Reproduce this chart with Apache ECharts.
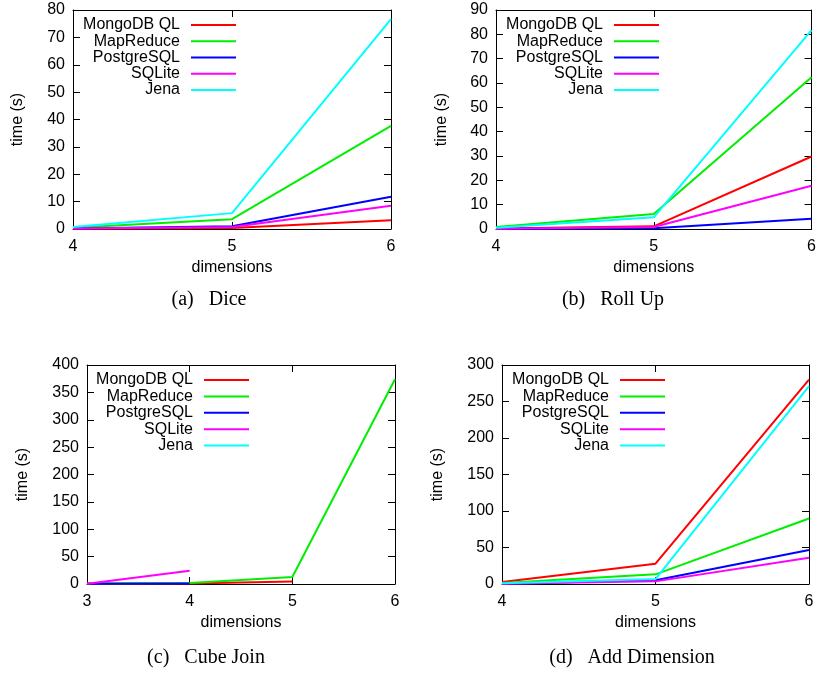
<!DOCTYPE html>
<html>
<head>
<meta charset="utf-8">
<script src="https://cdn.jsdelivr.net/npm/echarts@6/dist/echarts.min.js"></script>
<style>
  html, body { margin: 0; padding: 0; background: #fff; }
  #main { width: 819px; height: 675px; }
</style>
</head>
<body>
<div id="main"></div>
<script>
// series names, colours
var names = ['MongoDB QL', 'MapReduce', 'PostgreSQL', 'SQLite', 'Jena'];
var colors = ['#ff0000', '#00ee00', '#0000ff', '#ff00ff', '#00ffff'];

// x values (dimensions)
var dims456 = [4, 5, 6];
var dims3456 = [3, 4, 5, 6];

// (a) Dice
var diceMongo = [0.1, 0.4, 3.2];
var diceMapReduce = [0.5, 3.6, 37.7];
var dicePostgres = [0.2, 1.0, 11.8];
var diceSQLite = [0.2, 0.7, 8.5];
var diceJena = [0.7, 5.8, 76.7];

// (b) Roll Up
var rollMongo = [0.2, 1.1, 29.8];
var rollMapReduce = [0.8, 6.2, 62.4];
var rollPostgres = [0.1, 0.3, 4.2];
var rollSQLite = [0.1, 0.8, 17.8];
var rollJena = [0.5, 4.8, 81.7];

// (c) Cube Join
var joinMongo = [0.5, 1, 4.5, null];
var joinMapReduce = [1, 2, 12.8, 374];
var joinPostgres = [0.5, 0.8, null, null];
var joinSQLite = [0.5, 24.3, null, null];
var joinJena = [null, null, null, null];

// (d) Add Dimension
var addMongo = [2.7, 27.8, 280];
var addMapReduce = [1.4, 13.2, 89.8];
var addPostgres = [0.5, 5, 46.5];
var addSQLite = [0.5, 3.6, 36];
var addJena = [1, 6.8, 271];

var charts = [
  { caption: '(a)\u2002 Dice', x: dims456, ymax: 80, yint: 10,
    values: [diceMongo, diceMapReduce, dicePostgres, diceSQLite, diceJena],
    grid: { left: 73, top: 10, right: 428, bottom: 446 },
    nameGap: 47, legendRight: 583, legendTop: 25, legendStep: 16.25, capX: 209, capY: 300 },
  { caption: '(b)\u2002 Roll Up', x: dims456, ymax: 90, yint: 10,
    values: [rollMongo, rollMapReduce, rollPostgres, rollSQLite, rollJena],
    grid: { left: 496, top: 10, right: 6, bottom: 446 },
    nameGap: 46, legendRight: 160, legendTop: 25, legendStep: 16.25, capX: 613, capY: 300 },
  { caption: '(c)\u2002 Cube Join', x: dims3456, ymax: 400, yint: 50,
    values: [joinMongo, joinMapReduce, joinPostgres, joinSQLite, joinJena],
    grid: { left: 87, top: 365, right: 424, bottom: 91 },
    nameGap: 56, legendRight: 570, legendTop: 380, legendStep: 16.4, capX: 206, capY: 658 },
  { caption: '(d)\u2002 Add Dimension', x: dims456, ymax: 300, yint: 50,
    values: [addMongo, addMapReduce, addPostgres, addSQLite, addJena],
    grid: { left: 502, top: 365, right: 10, bottom: 91 },
    nameGap: 56, legendRight: 154, legendTop: 380, legendStep: 16.4, capX: 632, capY: 658 }
];

var font = 'Liberation Sans, Arial, sans-serif';
var lineAxis = { show: true, onZero: false, lineStyle: { color: '#000', width: 1 } };
var tick = { show: true, inside: true, length: 7, lineStyle: { color: '#000' } };

var grids = [], xAxes = [], yAxes = [], series = [], legends = [], graphics = [];

charts.forEach(function (c, i) {
  grids.push(c.grid);
  var xmin = c.x[0], xmax = c.x[c.x.length - 1];
  xAxes.push({
    type: 'value', gridIndex: i, min: xmin, max: xmax, interval: 1,
    axisLine: lineAxis, axisTick: tick, splitLine: { show: false },
    axisLabel: { margin: 10, color: '#000', fontSize: 16, fontFamily: font },
    name: 'dimensions', nameLocation: 'middle', nameGap: 31,
    nameTextStyle: { color: '#000', fontSize: 16, fontFamily: font }
  });
  xAxes.push({
    type: 'value', gridIndex: i, position: 'top', min: xmin, max: xmax, interval: 1,
    axisLine: lineAxis, axisTick: tick, splitLine: { show: false }, axisLabel: { show: false }
  });
  yAxes.push({
    type: 'value', gridIndex: i, min: 0, max: c.ymax, interval: c.yint,
    axisLine: lineAxis, axisTick: tick, splitLine: { show: false },
    axisLabel: { margin: 8, color: '#000', fontSize: 16, fontFamily: font },
    name: 'time (s)', nameLocation: 'middle', nameGap: c.nameGap,
    nameTextStyle: { color: '#000', fontSize: 16, fontFamily: font }
  });
  yAxes.push({
    type: 'value', gridIndex: i, position: 'right', min: 0, max: c.ymax, interval: c.yint,
    axisLine: lineAxis, axisTick: tick, splitLine: { show: false }, axisLabel: { show: false }
  });

  names.forEach(function (n, k) {
    series.push({
      name: n, type: 'line', xAxisIndex: i * 2, yAxisIndex: i * 2,
      data: c.x.map(function (x, j) { return [x, c.values[k][j]]; }),
      showSymbol: false, connectNulls: false, color: colors[k],
      lineStyle: { width: 2, color: colors[k] }, animation: false, z: 2 + k
    });
    legends.push({
      data: [{ name: n, icon: 'rect' }], align: 'right', orient: 'vertical',
      right: c.legendRight, top: c.legendTop + k * c.legendStep - 8,
      itemWidth: 45, itemHeight: 2, padding: 0, selectedMode: false,
      textStyle: { color: '#000', fontSize: 16, lineHeight: 16, fontFamily: font, padding: [0, 6, 0, 0] }
    });
  });

  graphics.push({
    type: 'text', x: c.capX, y: c.capY,
    style: { text: c.caption, font: '20px "Liberation Serif", serif', fill: '#000',
             align: 'center', verticalAlign: 'middle' }
  });
});

var myChart = echarts.init(document.getElementById('main'));
option = {
  backgroundColor: '#fff',
  animation: false,
  grid: grids,
  xAxis: xAxes,
  yAxis: yAxes,
  legend: legends,
  series: series,
  graphic: graphics
};
myChart.setOption(option);
</script>
</body>
</html>
